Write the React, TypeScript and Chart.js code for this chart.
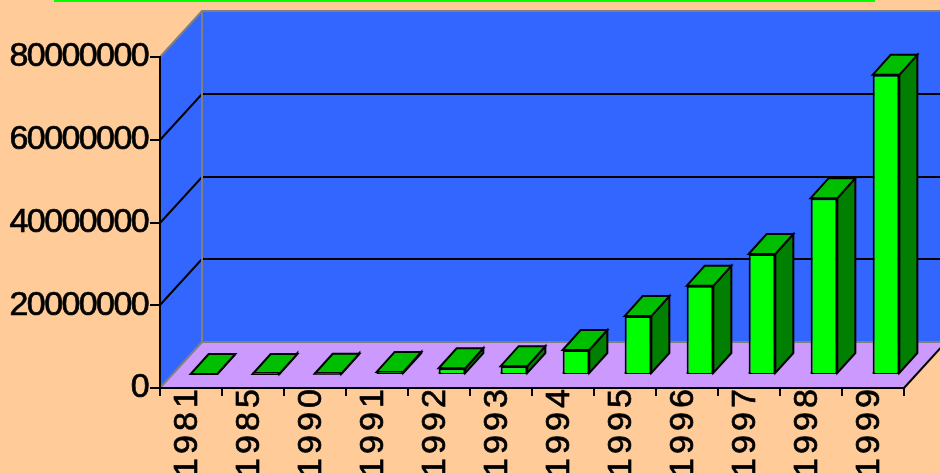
import React, { useEffect, useRef } from "react";
import { Chart, BarController, BarElement, CategoryScale, LinearScale } from "chart.js";

const categories = ["1981", "1985", "1990", "1991", "1992", "1993", "1994", "1995", "1996", "1997", "1998", "1999"];
const values = [0, 10000, 50000, 500000, 1400000, 1900000, 5800000, 14000000, 21300000, 29000000, 42500000, 72300000];
const yTicks = [0, 20000000, 40000000, 60000000, 80000000];

const PAGE = "#FFCC99";
const WALL = "#3366FF";
const FLOOR = "#CC99FF";
const FRONT = "#00FF00";
const TOP = "#00BF00";
const SIDE = "#007F00";
const GREY = "#808080";
const INK = "#000000";
const FONT = "'Liberation Sans', Arial, sans-serif";

const WALL_DX = 42;
const WALL_DY = 46;
const BAR_SHIFT_X = 13;
const BAR_SHIFT_Y = 14;
const BAR_DX = 18;
const BAR_DY = 20;

class SpacedCategory extends CategoryScale {
  static id = "spacedCategory";
  static defaults = CategoryScale.defaults;
  drawLabels(area: any) {
    const c = (this as any).ctx;
    c.save();
    c.letterSpacing = "4.1px";
    super.drawLabels(area);
    c.restore();
  }
}
class SpacedLinear extends LinearScale {
  static id = "spacedLinear";
  static defaults = LinearScale.defaults;
  drawLabels(area: any) {
    const c = (this as any).ctx;
    c.save();
    c.letterSpacing = "-1.6px";
    super.drawLabels(area);
    c.restore();
  }
}

Chart.register(BarController, BarElement, SpacedCategory, SpacedLinear);

function poly(ctx: CanvasRenderingContext2D, pts: number[][], fill: string | null, stroke: string | null, lw = 2) {
  ctx.beginPath();
  pts.forEach((p, i) => (i ? ctx.lineTo(p[0], p[1]) : ctx.moveTo(p[0], p[1])));
  if (fill) {
    ctx.closePath();
    ctx.fillStyle = fill;
    ctx.fill();
  }
  if (stroke) {
    ctx.strokeStyle = stroke;
    ctx.lineWidth = lw;
    ctx.lineJoin = "miter";
    ctx.stroke();
  }
}

const box3d = {
  id: "box3d",
  beforeDraw(chart: any) {
    const { ctx, chartArea: a, scales } = chart;
    const y = scales.y;
    const dx = WALL_DX;
    const dy = WALL_DY;
    ctx.save();
    ctx.fillStyle = PAGE;
    ctx.fillRect(0, 0, chart.width, chart.height);
    poly(ctx, [[a.left + dx, a.top - dy], [a.right + dx, a.top - dy], [a.right + dx, a.bottom - dy], [a.left + dx, a.bottom - dy]], WALL, null);
    poly(ctx, [[a.left, a.top], [a.left + dx, a.top - dy], [a.left + dx, a.bottom - dy], [a.left, a.bottom]], WALL, null);
    poly(ctx, [[a.left, a.bottom], [a.left + dx, a.bottom - dy], [a.right + dx, a.bottom - dy], [a.right, a.bottom]], FLOOR, null);
    yTicks.slice(1, -1).forEach((v) => {
      const py = Math.round(y.getPixelForValue(v));
      poly(ctx, [[a.left, py], [a.left + dx, py - dy], [a.right + dx, py - dy]], null, INK);
    });
    poly(ctx, [[a.left, a.top], [a.left + dx, a.top - dy], [a.right + dx, a.top - dy]], null, GREY);
    poly(ctx, [[a.left + dx, a.top - dy], [a.left + dx, a.bottom - dy], [a.right + dx, a.bottom - dy]], null, GREY);
    poly(ctx, [[a.left, a.bottom], [a.left + dx, a.bottom - dy]], null, GREY);
    poly(ctx, [[a.right, a.bottom], [a.right + dx, a.bottom - dy]], null, INK);
    ctx.restore();
  },
  beforeDatasetDraw(chart: any, args: any) {
    const { ctx } = chart;
    const meta = chart.getDatasetMeta(args.index);
    ctx.save();
    ctx.translate(BAR_SHIFT_X, -BAR_SHIFT_Y);
    meta.data.forEach((bar: any) => {
      const l = bar.x - bar.width / 2;
      const r = bar.x + bar.width / 2;
      const t = bar.y;
      const b = bar.base;
      poly(ctx, [[r, t], [r + BAR_DX, t - BAR_DY], [r + BAR_DX, b - BAR_DY], [r, b]], SIDE, INK);
      poly(ctx, [[l, t], [l + BAR_DX, t - BAR_DY], [r + BAR_DX, t - BAR_DY], [r, t]], TOP, INK);
      ctx.beginPath();
      ctx.moveTo(l, b);
      ctx.lineTo(r, b);
      ctx.strokeStyle = INK;
      ctx.lineWidth = 2;
      ctx.stroke();
    });
  },
  afterDatasetDraw(chart: any) {
    chart.ctx.restore();
  },
};

export default function App() {
  const ref = useRef<HTMLCanvasElement>(null);
  useEffect(() => {
    const chart = new Chart(ref.current as HTMLCanvasElement, {
      type: "bar",
      data: {
        labels: categories,
        datasets: [
          {
            data: values,
            backgroundColor: FRONT,
            borderColor: INK,
            borderWidth: 2,
            barPercentage: 0.43,
            categoryPercentage: 1,
            clip: false,
          } as any,
        ],
      },
      options: {
        responsive: false,
        animation: false,
        layout: { padding: { top: 57, right: 36, left: 0, bottom: 0 } },
        plugins: { legend: { display: false }, title: { display: false }, tooltip: { enabled: false } },
        scales: {
          x: {
            type: "spacedCategory",
            offset: true,
            grid: { drawOnChartArea: false, drawTicks: true, tickLength: 8, color: INK, lineWidth: 2, offset: true },
            border: { color: INK, width: 2 },
            afterFit: (s: any) => {
              s.height = 85;
            },
            ticks: {
              autoSkip: false,
              minRotation: 90,
              maxRotation: 90,
              padding: -11,
              labelOffset: -3,
              color: INK,
              textStrokeColor: INK,
              textStrokeWidth: 0.7,
              font: { family: FONT, size: 34 },
            },
          },
          y: {
            type: "spacedLinear",
            min: 0,
            max: 80000000,
            grid: { drawOnChartArea: false, drawTicks: true, tickLength: 10, color: INK, lineWidth: 2 },
            border: { color: INK, width: 2 },
            afterFit: (s: any) => {
              s.width = 160;
            },
            afterBuildTicks: (s: any) => {
              s.ticks = yTicks.map((value) => ({ value }));
            },
            ticks: {
              padding: 2,
              color: INK,
              textStrokeColor: INK,
              textStrokeWidth: 0.7,
              font: { family: FONT, size: 34 },
              callback: (v: any) => String(v),
            },
          },
        },
      } as any,
      plugins: [box3d as any],
    });
    return () => chart.destroy();
  }, []);
  return (
    <div style={{ position: "fixed", left: 0, top: 0, width: 940, height: 473, overflow: "hidden", background: PAGE }}>
      <canvas ref={ref} width={940} height={473} style={{ display: "block" }} />
      <div style={{ position: "absolute", left: 54, top: 0, width: 821, height: 2, background: FRONT }} />
    </div>
  );
}
